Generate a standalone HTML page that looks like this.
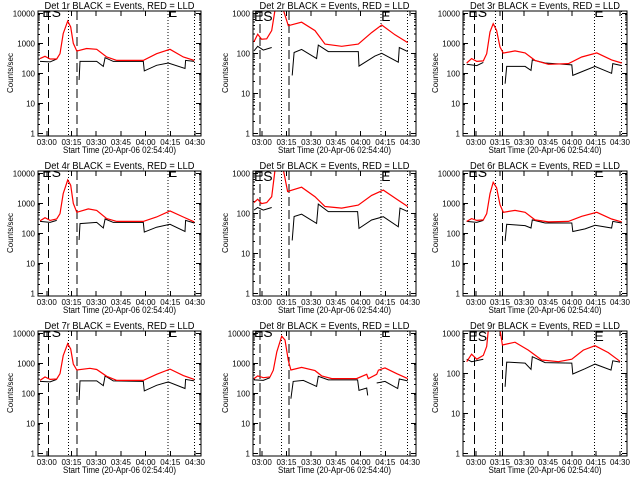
<!DOCTYPE html>
<html><head><meta charset="utf-8"><style>
html,body{margin:0;padding:0;background:#fff;}
svg{display:block;font-family:"Liberation Sans",sans-serif;}
</style></head><body>
<svg id="chart" width="640" height="480" viewBox="0 0 640 480" xmlns="http://www.w3.org/2000/svg">
<rect x="0" y="0" width="640" height="480" fill="#fff"/>
</svg>
<script>
// ---- data (time in minutes after 00:00, values in counts/sec) ----
const detLabels = ["1r","2r","3r","4r","5r","6r","7r","8r","9r"];
const yTopDecade = [4,3,4,4,3,4,4,4,3];
const xTickTimes = [180,195,210,225,240,255,270];
const xTickLabels = ["03:00","03:15","03:30","03:45","04:00","04:15","04:30"];

const p1RedT=[175.9,178.9,182.0,186.0,188.0,190.0,192.7,194.5,196.1,198.2,204.2,210.3,216.4,222.5,238.6,246.7,254.8,262.9,269.6];
const p1RedV=[310,370,300,300,450,2100,5500,3500,1000,550,670,630,350,270,270,450,630,350,270];
const p1BlkT=[175.9,182.0,186.0,null,199.6,200.2,210.3,214.3,215.4,220.4,238.6,239.2,246.7,253.8,263.9,264.3,269.6];
const p1BlkV=[250,240,300,null,60,250,250,170,330,250,250,120,185,220,145,270,250];

const p2RedT=[175.3,177.5,179.9,183.0,186.0,188.0,190.5,193.1,196.1,204.2,212.3,218.4,228.5,238.6,246.7,252.8,260.9,268.6];
const p2RedV=[195,300,225,230,370,1200,5000,1200,490,600,370,170,150,170,330,510,290,185];
const p2BlkT=[175.3,177.5,180.9,186.0,null,198.5,199.6,204.2,213.3,214.3,220.4,238.6,239.0,248.7,252.8,262.9,263.5,268.6];
const p2BlkV=[115,150,120,140,null,28,105,125,74,160,110,110,48,85,100,60,140,110];

const p3RedT=[174.2,177.3,180.5,184.6,186.7,188.8,190.8,192.9,195.0,197.1,204.4,210.7,216.9,225.3,237.8,246.1,255.5,264.8,271.1];
const p3RedV=[220,310,250,260,450,2400,4500,2700,750,470,560,480,270,200,210,350,480,280,220];
const p3BlkT=[174.2,180.5,184.6,null,198.2,199.2,210.7,214.4,215.2,223.2,239.9,240.5,248.2,254.4,264.8,265.5,271.1];
const p3BlkV=[200,180,230,null,45,170,170,125,280,220,190,85,125,170,100,210,180];

const p4RedT=[175.9,178.9,182.0,186.0,188.0,190.0,192.7,194.5,196.1,198.2,205.2,210.3,216.4,222.5,238.6,246.7,254.8,262.9,269.6];
const p4RedV=[260,330,270,300,450,2100,6000,4000,1000,500,650,580,310,250,250,350,560,350,240];
const p4BlkT=[175.9,182.0,186.0,null,199.6,200.2,210.3,214.3,215.4,220.4,238.6,239.2,246.7,254.8,263.9,264.3,269.6];
const p4BlkV=[250,230,270,null,60,210,230,150,300,230,230,110,160,200,115,270,220];

const p5RedT=[175.3,177.5,179.9,183.0,186.0,188.0,190.5,193.1,195.7,204.2,212.3,218.4,228.5,238.6,246.7,253.8,262.0,268.6];
const p5RedV=[185,225,175,185,260,1200,5000,1200,350,450,260,148,135,160,280,380,225,148];
const p5BlkT=[175.3,177.5,180.9,186.0,null,198.5,199.6,204.2,213.3,214.3,220.4,238.2,239.0,246.7,253.8,262.9,263.9,268.6];
const p5BlkV=[120,140,120,140,null,21,83,95,56,170,110,110,42,68,82,46,135,110];

const p6RedT=[174.2,177.3,180.5,184.6,186.7,188.8,190.8,192.9,195.0,197.1,204.4,210.7,216.9,225.3,237.8,246.1,255.5,264.8,271.1];
const p6RedV=[250,310,270,280,450,2100,5000,3300,900,500,580,500,280,240,250,370,500,300,240];
const p6BlkT=[174.2,180.5,184.6,null,198.2,199.2,210.7,214.4,215.2,223.2,239.9,240.5,248.2,254.4,264.8,265.5,271.1];
const p6BlkV=[250,230,270,null,55,200,180,150,280,220,220,115,140,185,150,250,220];

const p7RedT=[175.9,178.9,182.0,186.0,188.0,190.0,192.7,194.5,196.1,198.2,206.2,210.3,216.4,222.5,238.6,246.7,254.8,262.9,269.6];
const p7RedV=[270,350,290,300,450,1800,4500,3000,950,600,680,620,370,270,270,430,640,390,290];
const p7BlkT=[175.9,182.0,186.0,null,199.6,200.2,210.3,214.3,215.4,220.4,238.6,239.2,246.7,253.8,263.9,264.3,269.6];
const p7BlkV=[250,240,290,null,60,260,260,180,380,260,250,120,185,240,145,290,260];

const p8RedT=[175.3,177.5,180.9,185.0,187.0,189.1,192.1,194.1,196.1,197.7,204.2,212.3,216.4,222.5,237.6,243.7,244.7,249.8,250.8,254.8,262.0,268.6];
const p8RedV=[310,380,330,350,590,2400,8000,6000,1250,600,730,570,380,310,310,430,310,430,590,700,450,310];
const p8BlkT=[175.3,180.9,185.0,null,197.7,199.1,205.2,213.3,214.3,220.4,238.2,239.0,243.7,244.3,null,249.8,254.8,262.5,263.5,268.6];
const p8BlkV=[280,270,330,null,66,250,270,170,370,280,280,125,150,85,null,220,250,145,300,260];

const p9RedT=[174.2,177.3,180.5,184.6,186.7,187.7,191.4,195.1,196.5,204.4,212.7,221.1,231.5,239.9,247.1,254.4,262.7,270.0];
const p9RedV=[195,300,225,280,470,1200,5000,1200,510,600,380,215,195,225,380,490,330,200];
const p9BlkT=[174.2,177.3,184.6,null,198.2,199.2,210.7,214.4,215.2,223.2,239.9,240.5,248.2,254.4,264.4,265.5,270.0];
const p9BlkV=[225,195,225,null,46,190,180,125,260,185,180,96,130,170,120,205,190];

// event marker times per column
const dashedTimes = [[180.9,198.2],[178.9,196.5],[179.0,196.7]];
const dottedTimes = [[193.1,253.5,269.6],[192.1,252.5,268.6],[192.3,254.0,271.1]];

const redT=[p1RedT,p2RedT,p3RedT,p4RedT,p5RedT,p6RedT,p7RedT,p8RedT,p9RedT];
const redV=[p1RedV,p2RedV,p3RedV,p4RedV,p5RedV,p6RedV,p7RedV,p8RedV,p9RedV];
const blkT=[p1BlkT,p2BlkT,p3BlkT,p4BlkT,p5BlkT,p6BlkT,p7BlkT,p8BlkT,p9BlkT];
const blkV=[p1BlkV,p2BlkV,p3BlkV,p4BlkV,p5BlkV,p6BlkV,p7BlkV,p8BlkV,p9BlkV];

// ---- layout ----
const NS="http://www.w3.org/2000/svg";
const svg=document.getElementById('chart');
const colLeft=[38,253,463], colRight=[201,416,627];
const colT0=[174.67,174.67,171.9], colPx=[1.647,1.647,1.6];
function mk(tag,attrs,parent){const e=document.createElementNS(NS,tag);for(const k in attrs)e.setAttribute(k,attrs[k]);(parent||svg).appendChild(e);return e;}

for(let p=0;p<9;p++){
  const col=p%3,row=Math.floor(p/3),oy=row*160;
  const L=colLeft[col],R=colRight[col],T=oy+11,B=oy+136;
  const dec=yTopDecade[p]===4?30:40;
  const y1=oy+133.3;
  const xs=t=>L+(t-colT0[col])*colPx[col];
  const ys=v=>y1-Math.log10(v)*dec;
  const g=mk('g',{});
  
  
  const cid='clip'+p;
  const cp=mk('clipPath',{id:cid},g);mk('rect',{x:L,y:T,width:R-L,height:B-T},cp);

  const title=mk('text',{x:(L+R)/2,y:oy+9,'font-size':10,'text-anchor':'middle',textLength:150,lengthAdjust:'spacingAndGlyphs'},g);
  title.textContent='Det '+detLabels[p]+' BLACK = Events, RED = LLD';
  
  

  const yt=mk('text',{x:0,y:0,'font-size':8,'text-anchor':'middle',transform:`translate(${L-25},${oy+73}) rotate(-90)`},g);
  yt.textContent='Counts/sec';
  
  

  const xt=mk('text',{x:(L+R)/2,y:oy+153,'font-size':9,'text-anchor':'middle',textLength:113,lengthAdjust:'spacingAndGlyphs'},g);
  xt.textContent='Start Time (20-Apr-06 02:54:40)';
  
  

  // y ticks
  for(let d=0;d<=yTopDecade[p];d++){
    const yy=ys(Math.pow(10,d));
    mk('line',{x1:L,x2:L+5,y1:yy,y2:yy,stroke:'#000','shape-rendering':'crispEdges'},g);
    mk('line',{x1:R-5,x2:R,y1:yy,y2:yy,stroke:'#000','shape-rendering':'crispEdges'},g);
    const lb=mk('text',{x:L-3,y:yy+3,'font-size':8,'text-anchor':'end'},g);
    lb.textContent=String(Math.pow(10,d));
    
    
    if(d<yTopDecade[p]+1){for(let m=2;m<=9;m++){const ym=ys(m*Math.pow(10,d));if(ym<T)break;
      mk('line',{x1:L,x2:L+2,y1:ym,y2:ym,stroke:'#000','shape-rendering':'crispEdges'},g);
      mk('line',{x1:R-2,x2:R,y1:ym,y2:ym,stroke:'#000','shape-rendering':'crispEdges'},g);}}
  }
  // x ticks
  xTickTimes.forEach((t,i)=>{
    const xx=xs(t);
    mk('line',{x1:xx,x2:xx,y1:B,y2:B-5,stroke:'#000','shape-rendering':'crispEdges'},g);
    mk('line',{x1:xx,x2:xx,y1:T,y2:T+5,stroke:'#000','shape-rendering':'crispEdges'},g);
    const lb=mk('text',{x:xx,y:oy+145,'font-size':8,'text-anchor':'middle'},g);
    lb.textContent=xTickLabels[i];
    
    
  });
  const cg=mk('g',{'clip-path':`url(#${cid})`},g);
  // event lines
  dashedTimes[col].forEach(t=>{const l=mk('line',{x1:xs(t),x2:xs(t),y1:T,y2:B,stroke:'#000','stroke-dasharray':'9,4','shape-rendering':'crispEdges'},cg);
    
    });
  dottedTimes[col].forEach(t=>{const l=mk('line',{x1:xs(t),x2:xs(t),y1:T,y2:B,stroke:'#000','stroke-dasharray':'1,2','shape-rendering':'crispEdges'},cg);
    
    });
  const base=yTopDecade[p]===4?oy+17:oy+21;
  const es=mk('text',{x:xs(dashedTimes[col][0])-6,y:base,'font-size':14},cg);es.textContent='ES';
  
  
  const e=mk('text',{x:xs(dottedTimes[col][1]),y:base,'font-size':14},cg);e.textContent='E';
  
  
  // series
  function path(tt,vv){let d='',pen=false;for(let i=0;i<tt.length;i++){if(tt[i]===null){pen=false;continue;}
    d+=(pen?'L':'M')+xs(tt[i]).toFixed(1)+','+ys(vv[i]).toFixed(1);pen=true;}return d;}
  const bl=mk('path',{d:path(blkT[p],blkV[p]),fill:'none',stroke:'#000','stroke-width':1},cg);
  
  
  const rl=mk('path',{d:path(redT[p],redV[p]),fill:'none',stroke:'#ff0000','stroke-width':1.2},cg);
  
  
  const box=mk('rect',{x:L,y:T,width:R-L,height:B-T,fill:'none',stroke:'#000','shape-rendering':'crispEdges'},g);
  
  
}
</script>
</body></html>
